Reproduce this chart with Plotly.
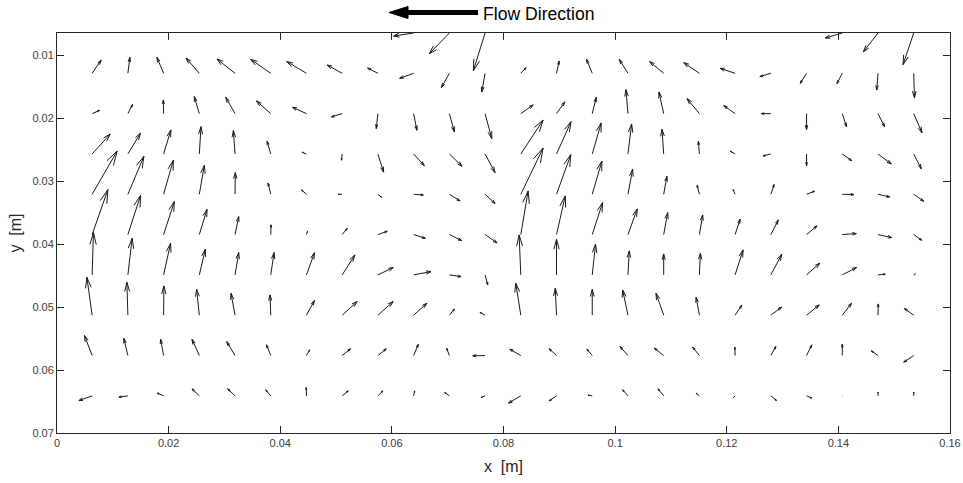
import math
import plotly.graph_objects as go

# PIV grid positions [m]
x_grid = [0.0063, 0.0127, 0.0191, 0.0255, 0.0319, 0.0383, 0.0447, 0.0511,
          0.0575, 0.0639, 0.0703, 0.0767, 0.0831, 0.0895, 0.0959, 0.1023,
          0.1087, 0.1151, 0.1215, 0.1279, 0.1343, 0.1407, 0.1471, 0.1535]
y_grid = [0.0065, 0.0129, 0.0193, 0.0257, 0.0321, 0.0385, 0.0449, 0.0513, 0.0577, 0.0641]

N = float("nan")
# velocity components (scaled, mm of arrow displacement); y axis points down
u0 = [N, N, N, N, N, N, N, N, N, -3.59, -3.59, -2.10, N, N, N, N, N, N, N, N, N, -3.05, -2.64, -1.92]
v0 = [N, N, N, N, N, N, N, N, N, 0.48, 3.28, 5.98, N, N, N, N, N, N, N, N, N, 0.79, 3.01, 5.03]
u1 = [1.61, 0.36, -1.20, -2.38, -3.23, -3.59, -3.53, -2.69, -1.85, -2.51, -1.43, -0.59,
      0.95, 0.48, -1.02, -1.56, -2.51, -2.82, -2.69, -1.97, -1.13, -0.95, -0.23, 0.13]
v1 = [-2.11, -2.54, -2.54, -2.43, -2.27, -2.22, -1.86, -1.32, -0.84, 0.79, 2.27, 2.97,
      -0.90, -1.95, -2.22, -2.22, -1.86, -1.70, -0.79, 0.52, 1.59, 1.63, 2.65, 3.92]
u2 = [1.31, 0.84, -0.05, -0.90, -1.67, -2.56, -2.51, -1.92, -0.30, 0.59, 0.90, 1.20,
      2.21, 1.49, 0.72, -0.36, -0.84, -2.21, -2.03, -1.67, 0.00, 0.77, 1.20, 1.49]
v2 = [-0.52, -1.47, -2.17, -2.70, -2.59, -2.01, -1.00, 0.52, 2.38, 2.65, 2.90, 3.97,
      -1.38, -1.86, -2.59, -3.81, -3.44, -2.38, -1.27, 0.00, 2.54, 2.11, 2.11, 3.06]
u3 = [3.23, 2.28, 1.31, 0.30, -0.30, -0.66, -0.81, -0.13, 1.02, 1.92, 2.28, 1.79,
      4.00, 2.60, 1.61, 0.66, -0.30, -0.18, -0.86, -1.38, 0.00, 1.67, 2.38, 1.38]
v3 = [-3.17, -3.33, -3.81, -4.33, -3.70, -2.01, -0.27, 1.00, 2.90, 1.86, 1.95, 2.97,
      -5.39, -5.12, -4.92, -4.76, -3.92, -2.01, -0.43, 0.32, 1.86, 1.06, 1.59, 2.38]
u4 = [4.48, 2.87, 1.74, 0.90, 0.05, -0.48, -0.90, -0.72, 0.66, 1.74, 1.92, 1.79,
      4.00, 2.56, 1.74, 0.84, 0.59, -0.41, -0.36, 0.59, 1.43, 2.10, 2.10, 1.79]
v4 = [-6.87, -6.03, -5.39, -4.60, -3.44, -1.79, -0.68, 0.00, 0.48, 0.11, 1.06, 1.47,
      -7.34, -6.30, -5.28, -3.97, -2.85, -1.43, -0.75, -1.54, -0.48, 0.05, 0.43, 1.11]
u5 = [2.82, 2.28, 1.92, 1.38, 0.66, 0.05, 0.18, 0.90, 1.67, 2.10, 2.21, 2.15,
      1.31, 1.56, 1.85, 1.67, 0.72, 0.59, 0.90, 1.34, 1.88, 2.51, 2.46, 1.43]
v5 = [-7.14, -6.23, -5.23, -4.01, -2.85, -1.54, -0.52, -1.00, -0.52, 0.59, 0.95, 1.32,
      -6.93, -6.14, -5.08, -4.08, -3.49, -3.12, -2.46, -2.33, -1.38, -0.16, 0.48, 0.90]
u6 = [0.23, 0.77, 1.26, 1.08, 0.66, 0.59, 1.43, 2.28, 2.74, 3.10, 2.10, 0.48,
      -0.30, 0.00, 0.59, 0.23, 0.00, 0.18, 1.43, 1.97, 2.38, 2.56, 1.31, 0.30]
v6 = [-6.71, -5.82, -5.03, -4.08, -3.54, -3.54, -3.54, -3.17, -1.16, -0.52, 0.27, 1.59,
      -6.34, -5.66, -4.87, -3.81, -3.33, -3.44, -3.97, -3.28, -1.86, -1.16, -0.11, -0.16]
u7 = [-0.95, -0.18, 0.05, -0.48, -0.72, -0.13, 1.43, 2.69, 2.74, 2.38, 0.90, -0.90,
      -0.90, -0.23, 0.00, -0.95, -1.38, -0.59, 1.20, 1.92, 2.28, 1.67, 0.05, -1.67]
v7 = [-6.03, -5.23, -4.65, -4.12, -3.49, -3.22, -2.33, -2.17, -2.17, -1.90, -1.00, -0.43,
      -5.08, -4.28, -4.12, -4.01, -3.49, -2.85, -1.59, -1.27, -1.63, -1.90, -1.79, -1.06]
u8 = [-1.38, -0.72, -0.54, -1.31, -1.49, -0.77, 0.59, 1.49, 1.49, 0.84, -0.48, -2.21,
      -1.97, -1.31, -0.95, -1.43, -1.67, -1.20, -0.05, 0.90, 0.95, 0.00, -1.20, -1.79]
v8 = [-3.17, -2.74, -2.59, -2.59, -2.22, -1.70, -0.90, -1.06, -1.06, -1.79, -1.16, 0.05,
      -1.00, -1.06, -1.00, -1.43, -1.16, -1.32, -1.32, -1.43, -1.70, -1.79, -0.75, 1.06]
u9 = [-2.38, -1.61, -1.13, -1.31, -1.31, -0.90, -0.05, 1.08, 0.90, 0.18, -0.84, -0.72,
      -2.21, -1.31, -0.77, -0.95, -1.02, -0.59, -0.30, 1.02, 0.95, 0.05, 0.00, 0.00]
v9 = [0.75, 0.21, -0.43, -1.11, -1.11, -0.95, -1.32, -0.79, -0.79, -0.79, -0.52, 0.27,
      1.16, 0.79, -0.11, -0.95, -1.11, -0.43, 0.27, 0.75, 0.36, 0.00, -0.59, -0.59]

U = [u0, u1, u2, u3, u4, u5, u6, u7, u8, u9]
V = [v0, v1, v2, v3, v4, v5, v6, v7, v8, v9]
scale = 1e-3
alpha, beta = 0.28, 0.30

xs, ys = [], []
for j, yv in enumerate(y_grid):
    for k, xv in enumerate(x_grid):
        uu, vv = U[j][k], V[j][k]
        if math.isnan(uu) or math.isnan(vv):
            continue
        uu *= scale
        vv *= scale
        tx, ty = xv + uu, yv + vv
        xs += [xv, tx, None]
        ys += [yv, ty, None]
        xs += [tx - alpha * (uu + beta * vv), tx, tx - alpha * (uu - beta * vv), None]
        ys += [ty - alpha * (vv - beta * uu), ty, ty - alpha * (vv + beta * uu), None]

fig = go.Figure()
fig.add_trace(go.Scatter(x=xs, y=ys, mode="lines",
                         line=dict(color="#1a1a1a", width=1),
                         hoverinfo="skip", showlegend=False))

W, H = 963, 483
ml, mr, mt, mb = 57, 13, 33, 50
pw, ph = W - ml - mr, H - mt - mb


def px(xp):
    return (xp - ml) / pw


def py(yp):
    return (H - mb - yp) / ph


# "Flow Direction" arrow
fig.add_shape(type="line", xref="paper", yref="paper",
              x0=px(404), x1=px(478), y0=py(12.5), y1=py(12.5),
              line=dict(color="black", width=5))
fig.add_shape(type="path", xref="paper", yref="paper",
              path=f"M {px(389)},{py(12.5)} L {px(408)},{py(6.5)} L {px(408)},{py(18.5)} Z",
              fillcolor="black", line=dict(color="black", width=1))
fig.add_annotation(text="Flow Direction", xref="paper", yref="paper",
                   x=px(481), y=py(14), xanchor="left", yanchor="middle",
                   showarrow=False, font=dict(size=17.6, color="black"))

axis_common = dict(showline=True, linecolor="#262626", linewidth=1, mirror="allticks",
                   ticks="inside", ticklen=7, tickcolor="#262626",
                   showgrid=False, zeroline=False, automargin=False,
                   tickfont=dict(size=11, color="#404040"))
fig.update_xaxes(range=[0, 0.16], tick0=0, dtick=0.02,
                 title=dict(text="x\u00a0 [m]", font=dict(size=16, color="#262626"), standoff=12),
                 **axis_common)
fig.update_yaxes(range=[0.07, 0.0065], tick0=0.01, dtick=0.01,
                 title=dict(text="y\u00a0 [m]", font=dict(size=16, color="#262626"), standoff=6),
                 **axis_common)
fig.update_layout(width=W, height=H, margin=dict(l=ml, r=mr, t=mt, b=mb),
                  plot_bgcolor="white", paper_bgcolor="white",
                  font=dict(family="Liberation Sans, Arial, sans-serif"))
fig.write_html("out.html")
